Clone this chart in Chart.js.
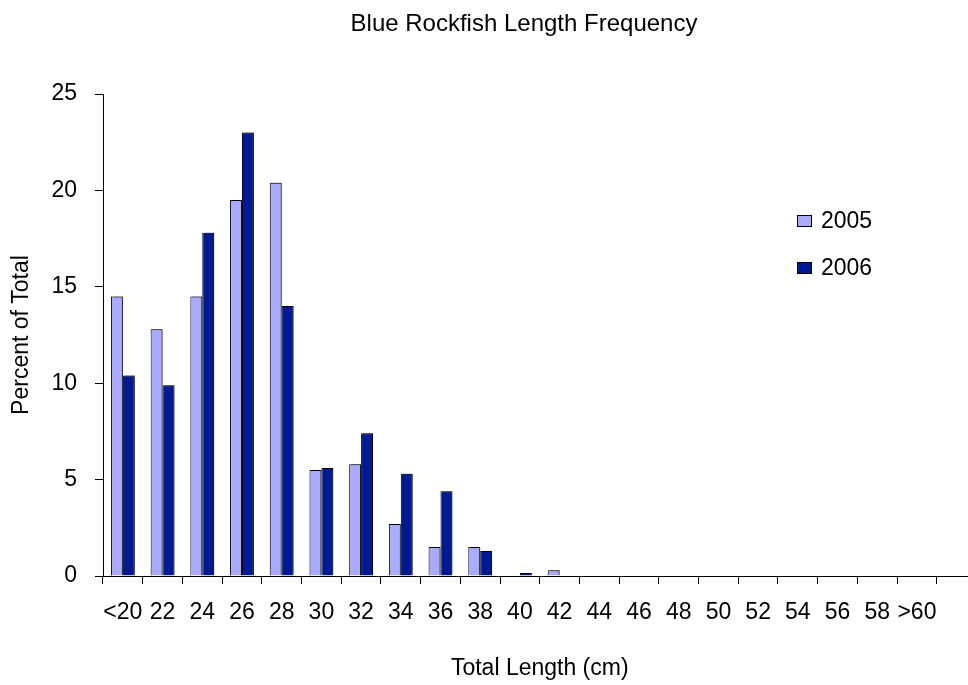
<!DOCTYPE html>
<html>
<head>
<meta charset="utf-8">
<script src="https://cdn.jsdelivr.net/npm/chart.js@4.4.1/dist/chart.umd.min.js"></script>
<style>
  html, body { margin: 0; padding: 0; background: #fff; overflow: hidden; }
</style>
</head>
<body>
<canvas id="mycanvas" width="990" height="685"></canvas>
<script>
// length classes (the last, blank one is the cut-off slot at the right edge)
var lengths = ['<20', '22', '24', '26', '28', '30', '32', '34', '36', '38', '40',
               '42', '44', '46', '48', '50', '52', '54', '56', '58', '>60', ''];
var pct2005 = [14.5, 12.8, 14.5, 19.5, 20.4, 5.5, 5.8, 2.7, 1.5, 1.5, 0,
               0.3, 0, 0, 0, 0, 0, 0, 0, 0, 0, null];
var pct2006 = [10.4, 9.9, 17.8, 23.0, 14.0, 5.6, 7.4, 5.3, 4.4, 1.3, 0.15,
               0, 0, 0, 0, 0, 0, 0, 0, 0, 0, null];
var yTicks = [0, 5, 10, 15, 20, 25];

var seriesNames = ['2005', '2006'];
var seriesColors = ['#aaaaff', '#001a94'];
var fontFam = '"Liberation Sans", Arial, sans-serif';

var barShadow = {
	id: 'barShadow',
	beforeDatasetsDraw: function(chart) {
		var ctx = chart.ctx;
		ctx.save();
		ctx.shadowColor = 'rgba(0,0,0,0.35)';
		ctx.shadowOffsetX = 2;
		ctx.shadowOffsetY = -1;
		ctx.shadowBlur = 0;
	},
	afterDatasetsDraw: function(chart) {
		chart.ctx.restore();
	}
};

// title and legend sit where Excel put them
var extras = {
	id: 'extras',
	afterDraw: function(chart) {
		var ctx = chart.ctx;
		ctx.save();
		ctx.fillStyle = '#000';
		ctx.textBaseline = 'alphabetic';
		ctx.textAlign = 'center';
		ctx.font = '24px ' + fontFam;
		ctx.fillText('Blue Rockfish Length Frequency', 524, 31);
		ctx.restore();

		ctx.save();
		ctx.font = '23px ' + fontFam;
		ctx.textBaseline = 'middle';
		ctx.textAlign = 'left';
		var rows = [221, 268];
		for (var i = 0; i < seriesNames.length; i++) {
			ctx.fillStyle = seriesColors[i];
			ctx.fillRect(797.5, rows[i] - 5.5, 14, 11);
			ctx.strokeStyle = '#000';
			ctx.lineWidth = 1;
			ctx.strokeRect(797.5, rows[i] - 5.5, 14, 11);
			ctx.fillStyle = '#000';
			ctx.fillText(seriesNames[i], 821, rows[i] + 1);
		}
		ctx.restore();
	}
};

var chartdata = {
	labels: lengths,
	datasets: [
		{
			label: seriesNames[0],
			data: pct2005,
			backgroundColor: seriesColors[0],
			borderColor: '#000',
			borderWidth: 1,
			categoryPercentage: 0.6,
			barPercentage: 1.0
		},
		{
			label: seriesNames[1],
			data: pct2006,
			backgroundColor: seriesColors[1],
			borderColor: '#000',
			borderWidth: 1,
			categoryPercentage: 0.6,
			barPercentage: 1.0
		}
	]
};

var ctx = document.getElementById('mycanvas');
var barGraph = new Chart(ctx, {
	type: 'bar',
	data: chartdata,
	plugins: [barShadow, extras],
	options: {
		responsive: false,
		animation: false,
		layout: { padding: { left: 0, top: 94, right: 13.5, bottom: 0 } },
		plugins: {
			legend: { display: false },
			title: { display: false },
			tooltip: { enabled: false }
		},
		scales: {
			x: {
				grid: { display: true, drawOnChartArea: false, drawTicks: true, tickLength: 8, color: '#000', offset: true },
				border: { display: true, color: '#000', width: 1 },
				ticks: { color: '#000', font: { family: fontFam, size: 23 }, padding: 15, maxRotation: 0, autoSkip: false },
				title: { display: true, text: 'Total Length (cm)', color: '#000', font: { family: fontFam, size: 23 }, padding: { top: 0, bottom: 3 } },
				afterFit: function(scale) { scale.height = 109; }
			},
			y: {
				min: 0,
				max: 25,
				afterBuildTicks: function(scale) {
					scale.ticks = yTicks.map(function(v) { return { value: v }; });
				},
				grid: { display: true, drawOnChartArea: false, drawTicks: true, tickLength: 8, color: '#000' },
				border: { display: true, color: '#000', width: 1 },
				ticks: { color: '#000', font: { family: fontFam, size: 23 }, padding: 18 },
				title: { display: true, text: 'Percent of Total', color: '#000', font: { family: fontFam, size: 23 }, padding: { top: 8, bottom: 0 } },
				afterFit: function(scale) { scale.width = 103; }
			}
		}
	}
});
</script>
</body>
</html>
